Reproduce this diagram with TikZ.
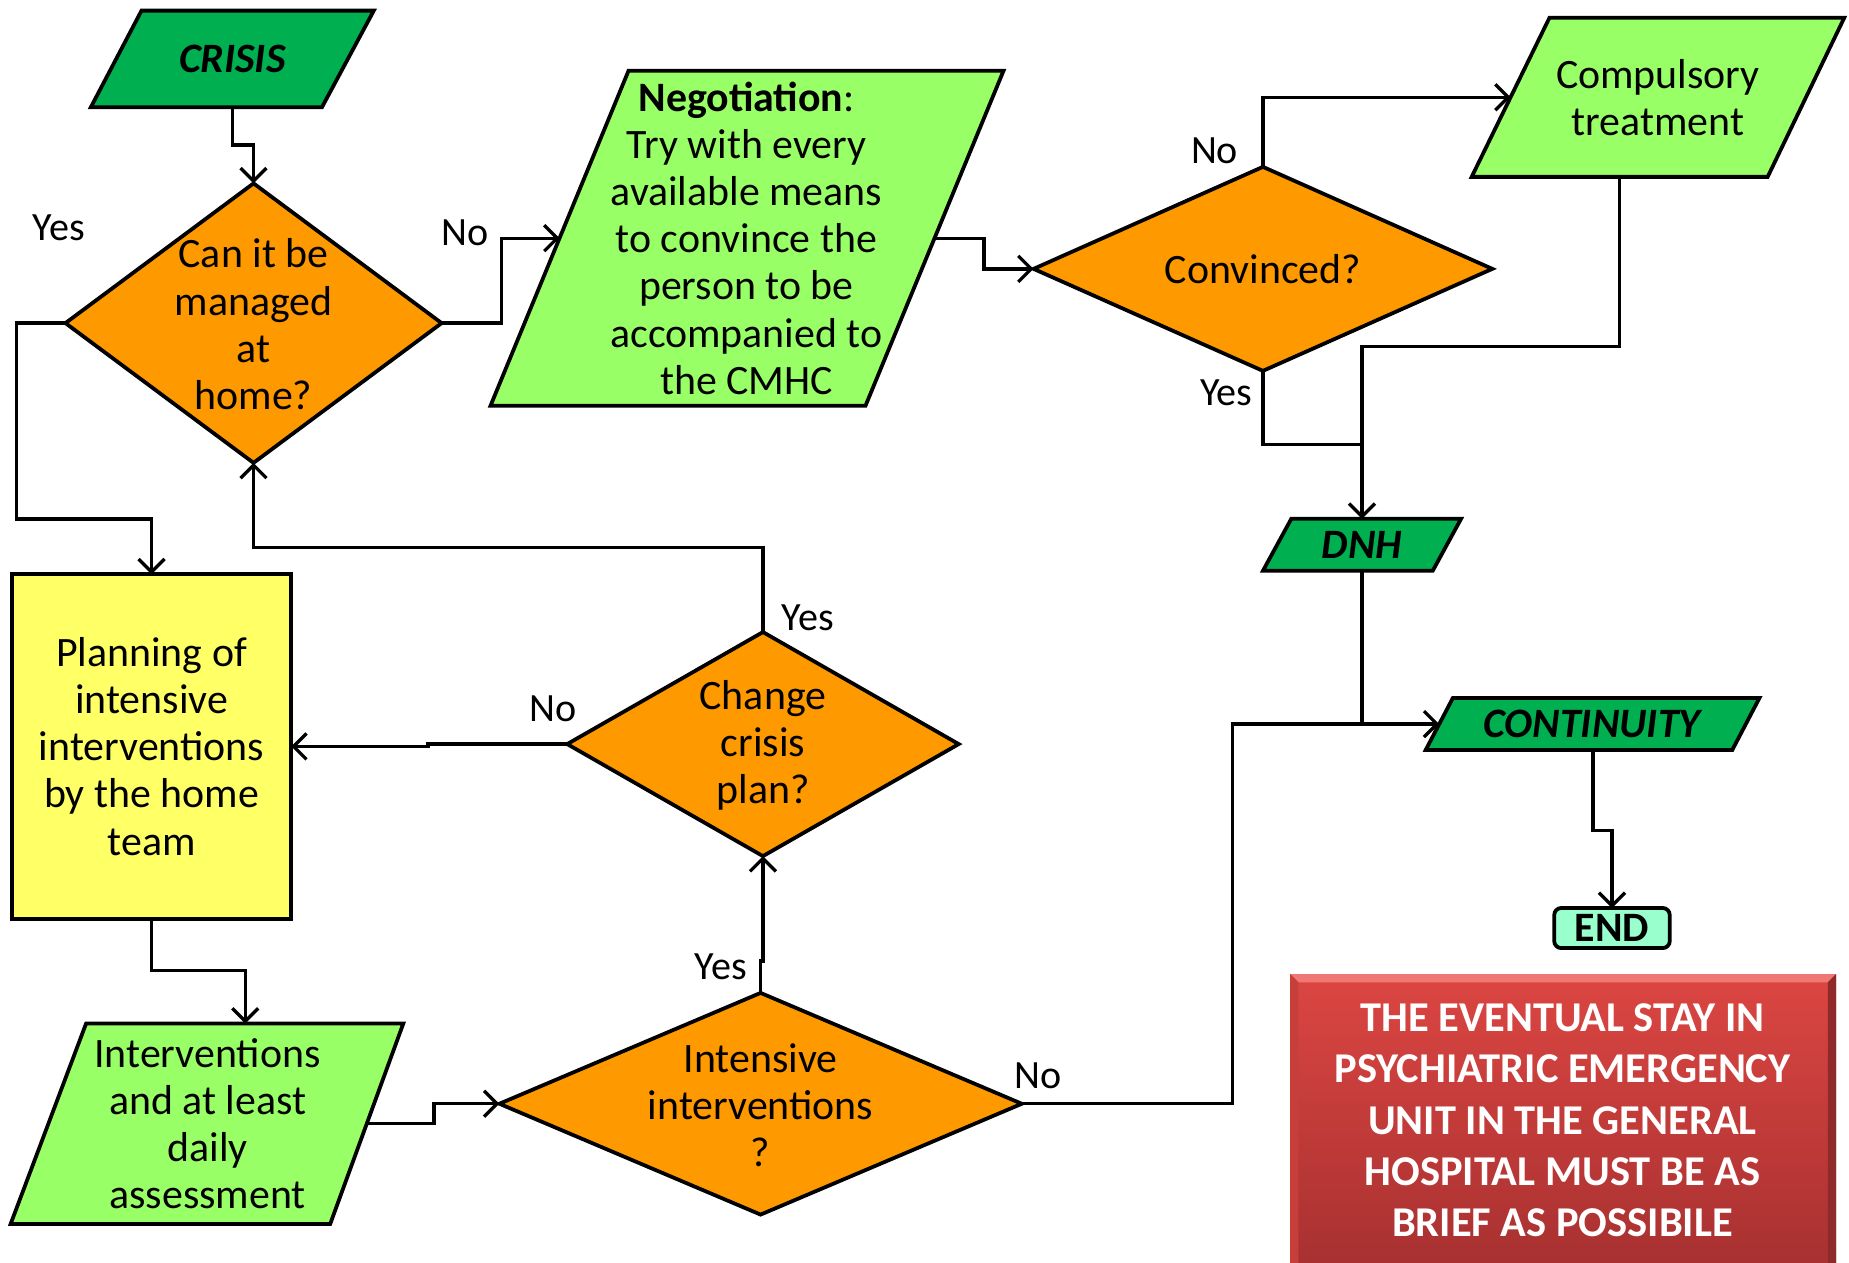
\documentclass[tikz,border=0pt]{standalone}
\usepackage{fontspec}
\setmainfont{Carlito}
\usetikzlibrary{arrows.meta,calc,shapes.geometric}

\definecolor{startgreen}{HTML}{00B050}
\definecolor{stepgreen}{HTML}{99FF66}
\definecolor{decorange}{HTML}{FF9900}
\definecolor{planyellow}{HTML}{FFFF66}
\definecolor{endaqua}{HTML}{99FFCC}
\definecolor{notetop}{HTML}{DC4642}
\definecolor{notebot}{HTML}{A83131}
\definecolor{noterim}{HTML}{F07874}

% slanted box: name, style, x top-left, x top-right, x bottom-left, x bottom-right, y top, y bottom
\newcommand{\slantbox}[8]{%
  \coordinate (#1-tl) at (#3,#7);
  \coordinate (#1-tr) at (#4,#7);
  \coordinate (#1-bl) at (#5,#8);
  \coordinate (#1-br) at (#6,#8);
  \path[#2] (#1-tl) -- (#1-tr) -- (#1-br) -- (#1-bl) -- cycle;
}

\begin{document}
\begin{tikzpicture}[x=1pt,y=-1pt,
  every node/.style={font=\fontsize{35.5}{40}\selectfont, align=center, inner sep=0pt, outer sep=0pt},
  shapeline/.style={draw=black, line width=3.2pt, line join=miter},
  decision/.style={diamond, shapeline, fill=decorange},
  link/.style={draw=black, line width=2.8pt, -{Straight Barb[length=11pt,width=22pt]}},
  plainlink/.style={draw=black, line width=2.8pt},
  lbl/.style={font=\fontsize{34}{40}\selectfont},
  tag/.style={font=\fontsize{35.5}{40}\selectfont\bfseries\itshape}
]
\useasboundingbox (0,0) rectangle (1568,1071);

% ---- shapes ----
\slantbox{crisis}{shapeline, fill=startgreen}{120}{317}{77}{273}{9}{91}
\node[tag] (crisist) at (197,50) {CRISIS};

\node[decision, minimum width=319pt, minimum height=237pt] (d1) at (215,274) {};
\node (d1t) at (215,275) {Can it be\\managed\\at\\home?};

\slantbox{neg}{shapeline, fill=stepgreen}{533}{851}{416}{734}{60}{344}
\node (negt) at (633,202) {\textbf{Negotiation}:\\Try with every\\available means\\to convince the\\person to be\\accompanied to\\the CMHC};

\node[decision, minimum width=389pt, minimum height=173pt] (conv) at (1071,228) {};
\node (convt) at (1071,228) {Convinced?};

\slantbox{comp}{shapeline, fill=stepgreen}{1314}{1564}{1248}{1499}{15}{150}
\node (compt) at (1406,83) {Compulsory\\treatment};

\slantbox{dnh}{shapeline, fill=startgreen}{1095}{1239}{1071}{1215}{440}{484}
\node[tag] (dnht) at (1155,462) {DNH};

\slantbox{cont}{shapeline, fill=startgreen}{1232}{1492}{1209}{1469}{592}{636}
\node[tag] (contt) at (1350,614) {CONTINUITY};

\node[shapeline, fill=endaqua, rounded corners=6pt, minimum width=98pt, minimum height=34pt,
      font=\fontsize{35.5}{40}\selectfont\bfseries] (end) at (1367,787) {END};

\node[shapeline, fill=planyellow, minimum width=237pt, minimum height=292pt] (plan) at (128.5,633) {};
\node (plant) at (128.5,633) {Planning of\\intensive\\interventions\\by the home\\team};

\node[decision, minimum width=332pt, minimum height=190pt] (d3) at (647,631) {};
\node (d3t) at (647,632) {Change\\crisis\\plan?};

\slantbox{interv}{shapeline, fill=stepgreen}{73}{342}{9}{280}{868}{1038}
\node (intervt) at (176,953) {Interventions\\and at least\\daily\\assessment};

\node[decision, minimum width=443pt, minimum height=188pt] (d4) at (645,936) {};
\node (d4t) at (645,937) {Intensive\\interventions\\?};

% ---- note box with bevelled rim ----
\shade[top color=notetop, bottom color=notebot] (1094,826) rectangle (1557,1071);
\fill[noterim] (1094,826) -- (1557,826) -- (1550,833) -- (1101,833) -- cycle;
\fill[notebot!85!black] (1557,826) -- (1557,1071) -- (1550,1071) -- (1550,833) -- cycle;
\fill[notetop!90!black] (1094,826) -- (1101,833) -- (1101,1071) -- (1094,1071) -- cycle;
\node[text=white, font=\fontsize{36}{43.5}\selectfont\bfseries] (note) at (1325,950)
  {THE EVENTUAL STAY IN\\PSYCHIATRIC EMERGENCY\\UNIT IN THE GENERAL\\HOSPITAL MUST BE AS\\BRIEF AS POSSIBILE};

% ---- connection points on slanted boxes ----
\coordinate (crisis-out) at (197,91);
\coordinate (neg-in) at ($(neg-tl)!0.5!(neg-bl)$);
\coordinate (neg-out) at ($(neg-tr)!0.5!(neg-br)$);
\coordinate (comp-in) at ($(comp-tl)!0.5!(comp-bl)$);
\coordinate (comp-out) at ($(comp-bl)!0.5!(comp-br)$);
\coordinate (dnh-in) at (1155,440);
\coordinate (dnh-out) at (1155,484);
\coordinate (cont-in) at ($(cont-tl)!0.5!(cont-bl)$);
\coordinate (cont-out) at (1351,636);
\coordinate (interv-in) at (208,868);
\coordinate (interv-out) at ($(interv-tr)!0.5!(interv-br)$);
\coordinate (merge1) at (1155,377);
\coordinate (merge2) at (1155,614);

% ---- connectors ----
\draw[link] (crisis-out) -- ++(0,32) -| (d1.north);
\draw[link] (d1.east) -- ++(51,0) |- (neg-in);
\draw[link] (d1.west) -| (14,440) -| (plan.north);
\draw[link] (neg-out) -- ++(42,0) |- (conv.west);
\draw[link] (conv.north) |- (comp-in);
\draw[plainlink] (conv.south) |- (merge1);
\draw[link] (comp-out) -- ++(0,144) -| (dnh-in);
\draw[plainlink] (dnh-out) -- (merge2);
\draw[link] (d4.east) -- ++(178.5,0) |- (cont-in);
\draw[link] (cont-out) -- ++(0,68) -| (end.north);
\draw[link] (plan.south) -- ++(0,44) -| (interv-in);
\draw[link] (interv-out) -- ++(57,0) |- (d4.west);
\draw[link] (d4.north) -- ++(0,-27) -| (d3.south);
\draw[link] (d3.west) -- ++(-118,0) |- (plan.east);
\draw[link] (d3.north) -- ++(0,-72) -| (d1.south);

% ---- branch labels ----
\node[lbl] (y1) at (50,193) {Yes};
\node[lbl] (n1) at (394,197) {No};
\node[lbl] (n2) at (1030,128) {No};
\node[lbl] (y2) at (1040,333) {Yes};
\node[lbl] (y3) at (685,524) {Yes};
\node[lbl] (n3) at (469,601) {No};
\node[lbl] (y4) at (611,820) {Yes};
\node[lbl] (n4) at (880,912) {No};
\end{tikzpicture}
\end{document}
